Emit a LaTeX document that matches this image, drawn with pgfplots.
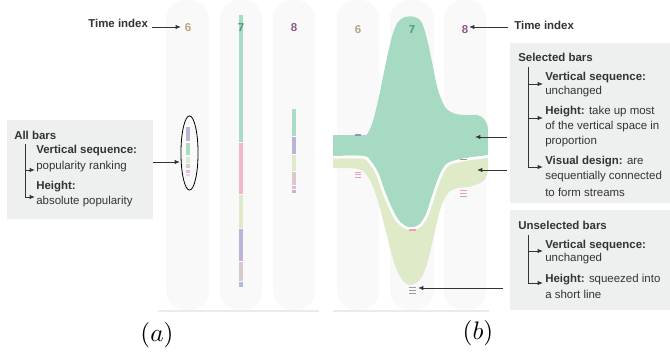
\documentclass[border=0pt]{standalone}
\usepackage{pgfplots}
\pgfplotsset{compat=1.18}
\usetikzlibrary{arrows.meta}
\usepackage{fontspec}
\setmainfont{Liberation Sans}
\definecolor{cgreen}{HTML}{A8DCC5}
\definecolor{cpink}{HTML}{F5B5CA}
\definecolor{clgreen}{HTML}{DFEACB}
\definecolor{cpurple}{HTML}{BDB2D8}
\definecolor{cgray}{HTML}{D8C9CF}
\definecolor{cblue}{HTML}{B5B8E3}
\definecolor{sgreen}{HTML}{A6DAC3}
\definecolor{syellow}{HTML}{DFEAC8}
\definecolor{colbg}{HTML}{F9F9F9}
\definecolor{boxbg}{HTML}{EEF0EF}
\definecolor{txt}{HTML}{333333}
\definecolor{n6}{HTML}{B8A37E}
\definecolor{n7}{HTML}{4E9A7A}
\definecolor{n8}{HTML}{8B5A86}
\definecolor{mpurple}{HTML}{9C8FC4}
\definecolor{mpink}{HTML}{EE9DB8}
\definecolor{mgray}{HTML}{9A9AB0}
\tikzset{
  ann/.style={draw=txt, line width=0.6pt, -{Latex[length=4pt,width=3.2pt]}},
  br/.style={draw=txt, line width=0.5pt},
  tx/.style={font=\fontsize{8.6}{10}\selectfont, text=txt, anchor=west, inner sep=0pt},
  num/.style={font=\fontsize{8.6}{10}\selectfont\bfseries, inner sep=0pt},
}
\newcommand{\barseg}[4]{\addplot[draw=#1, line width=3pt, line cap=butt, forget plot] coordinates {(#2,#3) (#2,#4)};}
\newcommand{\mk}[4]{\addplot[#1, line width=0.7pt, forget plot] coordinates {(#2,#4) (#3,#4)};}
\begin{document}
\begin{tikzpicture}
\begin{axis}[x=0.75pt, y=0.75pt, y dir=reverse, xmin=0, xmax=670, ymin=0, ymax=351,
  hide axis, clip=false, scale only axis]
\path (axis cs:0,0) rectangle (axis cs:670,351);
% column backgrounds
\fill[colbg, rounded corners=14pt] (axis cs:166,0) rectangle (axis cs:209,310);
\fill[colbg, rounded corners=14pt] (axis cs:220,0) rectangle (axis cs:262,310);
\fill[colbg, rounded corners=14pt] (axis cs:273,0) rectangle (axis cs:315,310);
\fill[colbg, rounded corners=14pt] (axis cs:337,0) rectangle (axis cs:379,310);
\fill[colbg, rounded corners=14pt] (axis cs:390,0) rectangle (axis cs:434,310);
\fill[colbg, rounded corners=14pt] (axis cs:444,0) rectangle (axis cs:486,310);
\draw[color=black!8, line width=1.5pt] (axis cs:158,311) -- (axis cs:319,311);
\draw[color=black!8, line width=1.5pt] (axis cs:333,311) -- (axis cs:489,311);
% (a) bars
\barseg{cpurple}{188}{127}{141}
\barseg{cgreen}{188}{143}{155}
\barseg{clgreen}{188}{157}{163}
\barseg{cgray}{188}{164.5}{168.5}
\barseg{cpink}{188}{170}{173}
\barseg{cblue!50}{188}{174}{176}
\barseg{cgreen}{241}{15}{142}
\barseg{cpink}{241}{143.5}{194}
\barseg{clgreen}{241}{195.5}{228}
\barseg{cpurple}{241}{229.5}{261}
\barseg{cgray}{241}{262.5}{281}
\barseg{cblue}{241}{282.5}{287}
\barseg{cgreen}{294}{109}{136}
\barseg{cpurple}{294}{137}{154}
\barseg{clgreen}{294}{155}{171}
\barseg{cgray}{294}{172}{185}
\barseg{cpink}{294}{186}{189.5}
\barseg{cblue}{294}{190.5}{193}
% (b) yellow stream
\addplot[fill=syellow, draw=none, smooth, forget plot] coordinates {
(333,156) (363,156) (370,161) (377,172) (383,189) (390,206) (397,219) (405,226) (412,227.5)
(420,224.5) (427,214) (433,196) (440,176) (447,164) (457,160) (470,157.5) (486,155.5) (488,158)
(488,171) (485,179) (480,183) (470,186.5) (458,188) (449,192) (442,204) (437,222) (432,244) (427,264) (421,278) (412,285)
(404,282) (398,273) (393,259) (388,240) (383,220) (377,198) (371,182) (364,172) (355,168.5) (333,168)} -- cycle;
% green stream
\addplot[fill=sgreen, draw=none, smooth, forget plot] coordinates {
(333,135) (363,135) (368,133) (373,121) (378,101) (383,77) (388,53) (393,33) (398,22) (405,17) (415,17)
(422,23) (428,43) (433,67) (438,90) (445,107) (453,113) (463,115) (477,115) (483,118) (487,124) (488,131)
(488,152) (486,155.5) (470,157.5) (457,160) (447,164) (440,176) (433,196) (427,214) (420,224.5) (412,227.5)
(405,226) (397,219) (390,206) (383,189) (377,172) (370,161) (363,156) (333,156)} -- cycle;
\addplot[white, line width=2pt, smooth, forget plot] coordinates {
(333,157.3) (363,157.3) (370,162.3) (377,173.3) (383,190.3) (390,207.3) (397,220.3) (405,227.3) (412,228.8)
(420,225.8) (427,215.3) (433,197.3) (440,177.3) (447,165.3) (457,161.3) (470,158.8) (488,156.5)};
% small marks in (b)
\addplot[mpurple, line width=0.9pt, forget plot] coordinates {(355,135) (361,135)};
\mk{mpink}{355}{361}{172}
\mk{mpink}{355}{361}{174.5}
\mk{mpink}{355}{361}{177}
\addplot[mpink, line width=0.9pt, forget plot] coordinates {(409,230) (416,230)};
\mk{mgray}{409}{416}{287}
\mk{mgray}{409}{416}{290}
\mk{mgray}{409}{416}{293}
\addplot[mpurple, line width=0.9pt, forget plot] coordinates {(460,159.5) (467,159.5)};
\mk{mpink}{460}{467}{190}
\mk{mpink}{460}{467}{193}
\mk{mgray!80}{460}{467}{196}
% time index numbers
\node[num, text=n6] at (axis cs:188,28) {6};
\node[num, text=n7] at (axis cs:241,28) {7};
\node[num, text=n8] at (axis cs:294,28) {8};
\node[num, text=n6] at (axis cs:358,30) {6};
\node[num, text=n7] at (axis cs:412,30) {7};
\node[num, text=n8] at (axis cs:465,30) {8};
% (a) annotations
\node[tx, font=\fontsize{8.6}{10}\selectfont\bfseries] at (axis cs:88,23) {Time index};
\draw[ann] (axis cs:152,27) -- (axis cs:181,27);
\draw[black, line width=0.6pt] (axis cs:189.5,153) ellipse [x radius=6.4pt, y radius=27.8pt];
\fill[boxbg] (axis cs:7,120) rectangle (axis cs:153,219);
\node[tx, font=\fontsize{8.6}{10}\selectfont\bfseries] at (axis cs:14,135) {All bars};
\draw[br] (axis cs:25,144) -- (axis cs:25,197);
\draw[ann] (axis cs:25,170) -- (axis cs:35,170);
\draw[ann] (axis cs:25,197) -- (axis cs:35,197);
\node[tx, font=\fontsize{8.6}{10}\selectfont\bfseries] at (axis cs:36,151) {Vertical sequence:};
\node[tx] at (axis cs:36,167) {popularity ranking};
\node[tx, font=\fontsize{8.6}{10}\selectfont\bfseries] at (axis cs:36,187) {Height:};
\node[tx] at (axis cs:36,202) {absolute popularity};
\draw[ann] (axis cs:153,162) -- (axis cs:180,162);
\node[scale=1.9] at (axis cs:157,335) {$(a)$};
% (b) annotations
\node[tx, font=\fontsize{8.6}{10}\selectfont\bfseries] at (axis cs:514,25) {Time index};
\draw[ann] (axis cs:508,27) -- (axis cs:469,27);
\fill[boxbg] (axis cs:510,43) rectangle (axis cs:670,203);
\node[tx, font=\fontsize{8.6}{10}\selectfont\bfseries] at (axis cs:518,57) {Selected bars};
\draw[br] (axis cs:528,67) -- (axis cs:528,167);
\draw[ann] (axis cs:528,84) -- (axis cs:543,84);
\draw[ann] (axis cs:528,118) -- (axis cs:543,118);
\draw[ann] (axis cs:528,167) -- (axis cs:543,167);
\node[tx, font=\fontsize{8.6}{10}\selectfont\bfseries] at (axis cs:545,78) {Vertical sequence:};
\node[tx] at (axis cs:545,92) {unchanged};
\node[tx] at (axis cs:545,112) {\textbf{Height:} take up most};
\node[tx] at (axis cs:545,127) {of the vertical space in};
\node[tx] at (axis cs:545,142) {proportion};
\node[tx] at (axis cs:545,162) {\textbf{Visual design:} are};
\node[tx] at (axis cs:545,177) {sequentially connected};
\node[tx] at (axis cs:545,192) {to form streams};
\draw[ann] (axis cs:507,137) -- (axis cs:475,137);
\draw[ann] (axis cs:507,170) -- (axis cs:477,170);
\fill[boxbg] (axis cs:510,210) rectangle (axis cs:670,310);
\node[tx, font=\fontsize{8.6}{10}\selectfont\bfseries] at (axis cs:518,225) {Unselected bars};
\draw[br] (axis cs:528,235) -- (axis cs:528,283);
\draw[ann] (axis cs:528,251) -- (axis cs:543,251);
\draw[ann] (axis cs:528,283) -- (axis cs:543,283);
\node[tx, font=\fontsize{8.6}{10}\selectfont\bfseries] at (axis cs:545,246) {Vertical sequence:};
\node[tx] at (axis cs:545,259) {unchanged};
\node[tx] at (axis cs:545,280) {\textbf{Height:} squeezed into};
\node[tx] at (axis cs:545,294) {a short line};
\draw[ann] (axis cs:503,288) -- (axis cs:418,288);
\node[scale=1.9] at (axis cs:478,333) {$(b)$};
\end{axis}
\end{tikzpicture}
\end{document}
